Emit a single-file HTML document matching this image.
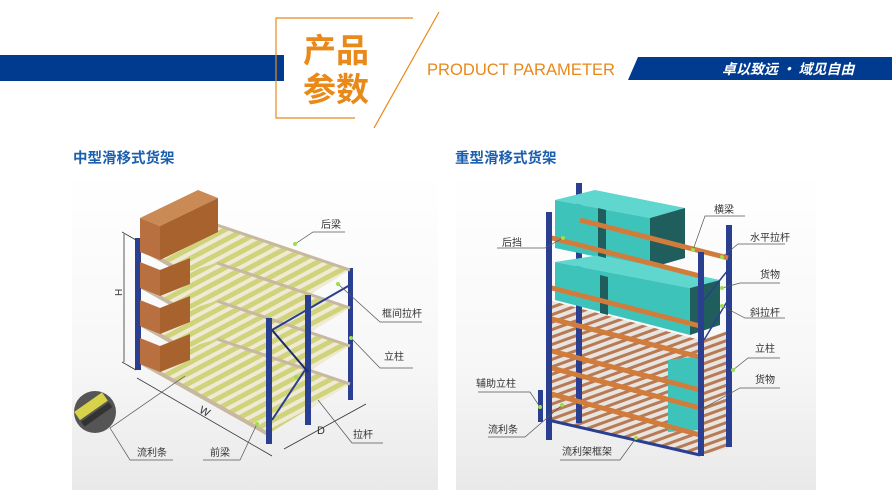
<!DOCTYPE html>
<html><head><meta charset="utf-8"><style>
html,body{margin:0;padding:0;background:#fff;}
body{width:892px;height:502px;overflow:hidden;position:relative;font-family:"Liberation Sans","Noto Sans CJK SC",sans-serif;}
</style></head><body>
<svg width="892" height="502" viewBox="0 0 892 502" xmlns="http://www.w3.org/2000/svg" style="position:absolute;left:0;top:0">
<defs>
<linearGradient id="pg" x1="0" y1="0" x2="0" y2="1"><stop offset="0" stop-color="#ffffff"/><stop offset="0.6" stop-color="#f7f7f7"/><stop offset="1" stop-color="#e9e9e9"/></linearGradient>
<pattern id="roll" width="9" height="9" patternUnits="userSpaceOnUse" patternTransform="rotate(62)"><rect width="9" height="9" fill="#efe9d6"/><rect width="5" height="9" fill="#cfd47a"/></pattern>
<pattern id="roll2" width="7" height="7" patternUnits="userSpaceOnUse" patternTransform="rotate(70)"><rect width="7" height="7" fill="#e8e4e0"/><rect width="3" height="7" fill="#b77a55"/></pattern>
</defs>
<rect x="0" y="55" width="284" height="26" fill="#003b8f"/>
<polyline points="355,118 276,118 276,18 413,18" fill="none" stroke="#e8891a" stroke-width="1.2"/>
<line x1="439" y1="12" x2="374" y2="128" stroke="#e8891a" stroke-width="1.2"/>
<rect x="290" y="22" width="90" height="90" fill="#fff"/>
<text x="303" y="62" font-size="33" font-weight="bold" fill="#e8891a" font-family="Noto Sans CJK SC,sans-serif">产品</text>
<text x="303" y="101" font-size="33" font-weight="bold" fill="#e8891a" font-family="Noto Sans CJK SC,sans-serif">参数</text>
<text x="427" y="75" font-size="17" fill="#e8891a" textLength="188" lengthAdjust="spacingAndGlyphs">PRODUCT PARAMETER</text>
<polygon points="638,57 892,57 892,80 628,80" fill="#003b8f"/>
<text x="722" y="74" font-size="14" font-weight="bold" font-style="italic" fill="#fff" font-family="Noto Sans CJK SC,sans-serif">卓以致远 · 域见自由</text>
<text x="73" y="163" font-size="14.5" font-weight="bold" fill="#1c5fae" font-family="Noto Sans CJK SC,sans-serif">中型滑移式货架</text>
<text x="455" y="163" font-size="14.5" font-weight="bold" fill="#1c5fae" font-family="Noto Sans CJK SC,sans-serif">重型滑移式货架</text>
<rect x="72" y="172" width="366" height="318" fill="url(#pg)"/>
<rect x="456" y="172" width="360" height="318" fill="url(#pg)"/>

<g>
<rect x="216" y="225" width="4" height="130" fill="#2a3f8f"/>
<rect x="348" y="268" width="5" height="132" fill="#2a3f8f"/>
<g id="deck">
<polygon points="140,248 217,225 350,270 268,320" fill="url(#roll)"/>
<line x1="140" y1="248" x2="268" y2="320" stroke="#c9b8a0" stroke-width="4"/>
<line x1="217" y1="225" x2="350" y2="270" stroke="#c9b8a0" stroke-width="3"/>
</g>
<use href="#deck" transform="translate(0,38)"/>
<use href="#deck" transform="translate(0,76)"/>
<use href="#deck" transform="translate(0,114)"/>
<rect x="135" y="238" width="6" height="132" fill="#2a3f8f"/>
<rect x="266" y="318" width="6" height="126" fill="#2a3f8f"/>
<rect x="305" y="295" width="6" height="130" fill="#2a3f8f"/>
<line x1="272" y1="330" x2="308" y2="372" stroke="#1a2a6a" stroke-width="2"/>
<line x1="272" y1="420" x2="305" y2="370" stroke="#2a3f8f" stroke-width="2"/>
<line x1="272" y1="330" x2="350" y2="285" stroke="#2a3f8f" stroke-width="2"/>
<polygon points="140,218 198,190 218,198 160,226" fill="#c98a55"/>
<polygon points="160,226 218,198 218,232 160,260" fill="#a8622e"/>
<polygon points="140,218 160,226 160,260 140,252" fill="#b87040"/>
<polygon points="140,262 160,270 160,296 140,288" fill="#b87040"/>
<polygon points="160,270 190,258 190,284 160,296" fill="#a8622e"/>
<polygon points="140,300 160,308 160,334 140,326" fill="#b87040"/>
<polygon points="160,308 190,296 190,322 160,334" fill="#a8622e"/>
<polygon points="140,338 160,346 160,372 140,364" fill="#b87040"/>
<polygon points="160,346 190,334 190,360 160,372" fill="#a8622e"/>
<line x1="124" y1="234" x2="124" y2="362" stroke="#333" stroke-width="0.8"/>
<line x1="122" y1="232" x2="136" y2="240" stroke="#333" stroke-width="0.8"/>
<line x1="122" y1="362" x2="136" y2="370" stroke="#333" stroke-width="0.8"/>
<text x="120" y="302" font-size="10" fill="#333" transform="rotate(-90 118 298)">H</text>
<line x1="137" y1="378" x2="272" y2="456" stroke="#333" stroke-width="0.8"/>
<text x="200" y="414" font-size="11" fill="#333" transform="rotate(28 203 410)">W</text>
<line x1="284" y1="449" x2="366" y2="404" stroke="#333" stroke-width="0.8"/>
<text x="317" y="434" font-size="11" fill="#333">D</text>
<circle cx="95" cy="412" r="21" fill="#555"/>
<rect x="78" y="400" width="34" height="10" fill="#d8d24a" transform="rotate(-35 95 412)"/>
<rect x="78" y="412" width="34" height="6" fill="#333" transform="rotate(-35 95 412)"/>
</g>
<g font-size="10" fill="#333" font-family="Noto Sans CJK SC,sans-serif">
<g stroke="#555" stroke-width="0.7" fill="none">
<polyline points="295,244 313,232 345,232"/>
<polyline points="338,284 380,322 422,322"/>
<polyline points="351,338 380,368 413,368"/>
<polyline points="318,400 352,443 383,443"/>
<polyline points="257,424 240,460 203,460"/>
<polyline points="185,376 110,428 130,460 173,460"/>
</g>
<g fill="#9be04a"><circle cx="295" cy="244" r="2"/><circle cx="338" cy="284" r="2"/><circle cx="351" cy="338" r="2"/><circle cx="257" cy="424" r="2"/><circle cx="296" cy="377" r="2"/></g>
<text x="321" y="228">后梁</text>
<text x="382" y="317">框间拉杆</text>
<text x="384" y="360">立柱</text>
<text x="353" y="438">拉杆</text>
<text x="210" y="456">前梁</text>
<text x="137" y="456">流利条</text>
</g>

<g>
<polygon points="548,300 700,340 730,330 730,448 700,455 548,420" fill="url(#roll2)"/>
<rect x="576" y="183" width="6" height="240" fill="#2a3f8f"/>
<rect x="726" y="225" width="6" height="222" fill="#2a3f8f"/>
<polygon points="555,200 595,190 685,208 650,218" fill="#5fd6ce"/>
<polygon points="555,200 650,218 650,268 555,248" fill="#3ec3bb"/>
<polygon points="650,218 685,208 685,258 650,268" fill="#1f5e5c"/>
<polygon points="555,262 600,255 720,280 690,288" fill="#5fd6ce"/>
<polygon points="555,262 690,288 690,335 555,300" fill="#3ec3bb"/>
<polygon points="690,288 720,280 720,325 690,335" fill="#1f5e5c"/>
<polygon points="668,360 700,356 700,430 668,432" fill="#3ec3bb"/>
<polygon points="598,208 606,210 606,258 598,256" fill="#1f5e5c"/>
<polygon points="600,275 608,277 608,315 600,313" fill="#1f5e5c"/>
<g stroke="#d27c3c" stroke-width="5">
<line x1="548" y1="237" x2="700" y2="276"/>
<line x1="580" y1="220" x2="728" y2="258"/>
<line x1="548" y1="287" x2="700" y2="326"/>
<line x1="548" y1="318" x2="700" y2="357"/>
<line x1="548" y1="350" x2="700" y2="390"/>
<line x1="548" y1="367" x2="700" y2="408"/>
<line x1="548" y1="393" x2="700" y2="435"/>
</g>
<rect x="546" y="212" width="6" height="228" fill="#2a3f8f"/>
<rect x="698" y="252" width="6" height="204" fill="#2a3f8f"/>
<rect x="538" y="390" width="5" height="32" fill="#2a3f8f"/>
<line x1="548" y1="420" x2="700" y2="455" stroke="#2a3f8f" stroke-width="3"/>
<line x1="704" y1="300" x2="728" y2="270" stroke="#2a3f8f" stroke-width="1.5"/>
<line x1="704" y1="340" x2="728" y2="300" stroke="#2a3f8f" stroke-width="1.5"/>
</g>
<g font-size="10" fill="#333" font-family="Noto Sans CJK SC,sans-serif">
<g stroke="#555" stroke-width="0.7" fill="none">
<polyline points="693,250 705,216 745,216"/>
<polyline points="563,238 545,248 497,248"/>
<polyline points="722,257 738,244 785,244"/>
<polyline points="722,288 740,283 780,283"/>
<polyline points="722,306 745,318 785,318"/>
<polyline points="733,370 748,358 780,358"/>
<polyline points="700,410 740,388 780,388"/>
<polyline points="540,407 530,392 478,392"/>
<polyline points="562,405 525,437 488,437"/>
<polyline points="636,438 620,460 560,460"/>
</g>
<g fill="#9be04a"><circle cx="693" cy="250" r="2"/><circle cx="563" cy="238" r="2"/><circle cx="722" cy="257" r="2"/><circle cx="722" cy="288" r="2"/><circle cx="722" cy="306" r="2"/><circle cx="733" cy="370" r="2"/><circle cx="540" cy="407" r="2"/><circle cx="562" cy="405" r="2"/><circle cx="636" cy="438" r="2"/></g>
<text x="714" y="213">横梁</text>
<text x="502" y="246">后挡</text>
<text x="750" y="241">水平拉杆</text>
<text x="760" y="278">货物</text>
<text x="750" y="316">斜拉杆</text>
<text x="755" y="352">立柱</text>
<text x="755" y="383">货物</text>
<text x="476" y="387">辅助立柱</text>
<text x="488" y="433">流利条</text>
<text x="562" y="455">流利架框架</text>
</g>
</svg>
</body></html>
